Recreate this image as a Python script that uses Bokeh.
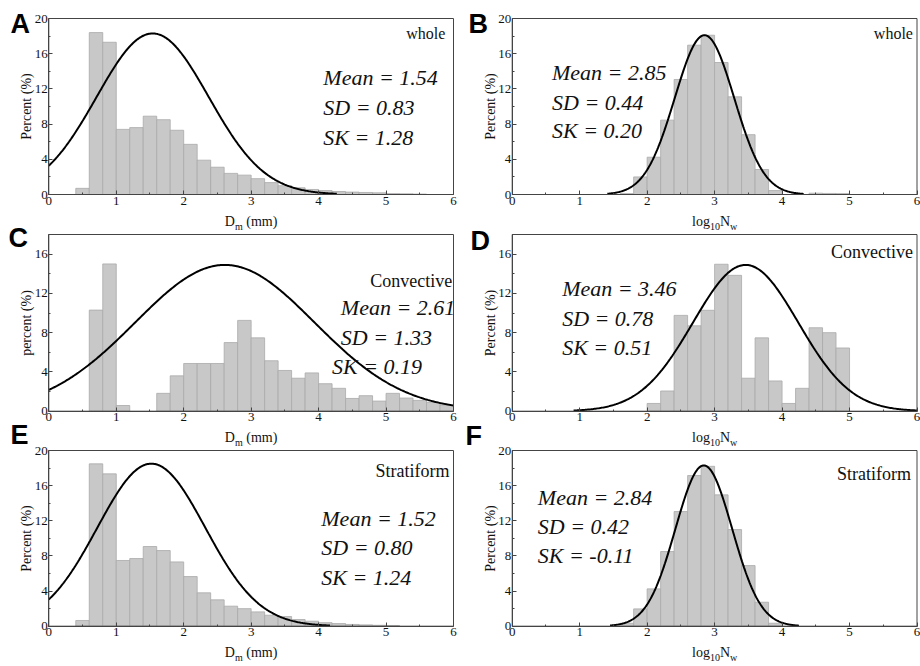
import numpy as np
from bokeh.plotting import figure
from bokeh.layouts import row
from bokeh.models import (FixedTicker, Label, Range1d, ColumnDataSource, LinearAxis)
from bokeh.embed import file_html
from bokeh.resources import INLINE

# ---------------- data ----------------
BIN_WIDTH = 0.2
X_TICKS = [0, 1, 2, 3, 4, 5, 6]
X_MINOR = [0.5, 1.5, 2.5, 3.5, 4.5, 5.5]

panel_letters = ["A", "B", "C", "D", "E", "F"]
panel_names = ["whole", "whole", "Convective", "Convective", "Stratiform", "Stratiform"]
y_titles = ["Percent (%)", "Percent (%)", "percent (%)", "Percent (%)", "Percent (%)", "Percent (%)"]
x_kinds = ["Dm", "Nw", "Dm", "Nw", "Dm", "Nw"]

# histogram: first bin left edge and percent per 0.2-wide bin
a_start = 0.4
a_pct = [0.7, 18.4, 17.3, 7.4, 7.6, 8.9, 8.5, 7.3, 5.7, 3.9, 3.1, 2.4, 2.2, 1.8,
         1.35, 1.0, 0.76, 0.57, 0.45, 0.34, 0.27, 0.23, 0.19, 0.1, 0.08, 0.05]
b_start = 1.6
b_pct = [0.1, 2.0, 4.24, 8.45, 13.07, 16.97, 18.1, 15.0, 11.1, 6.8, 2.84, 0.45,
         0, 0, 0.15, 0.12, 0.1]
c_start = 0.6
c_pct = [10.3, 15.0, 0.58, 0, 0, 1.82, 3.6, 4.86, 4.86, 4.86, 6.99, 9.25, 7.47,
         5.14, 4.15, 3.36, 3.9, 2.8, 2.33, 1.3, 1.58, 1.03, 1.82, 1.34, 1.1, 0.9, 0.62]
d_start = 2.0
d_pct = [0.79, 2.06, 9.76, 8.7, 10.28, 14.97, 13.84, 3.36, 7.47, 3.08, 0.79,
         2.33, 8.5, 8.0, 6.44]
e_start = 0.4
e_pct = [0.65, 18.48, 17.34, 7.48, 7.7, 9.07, 8.61, 7.32, 5.65, 3.8, 3.0, 2.28,
         2.0, 1.63, 1.25, 1.1, 0.76, 0.57, 0.4, 0.3, 0.2, 0.15, 0.1, 0.08]
f_start = 1.6
f_pct = [0.34, 1.97, 4.25, 8.5, 13.05, 17.15, 18.2, 14.95, 11.0, 6.9, 2.73, 0.34]

hist_starts = [a_start, b_start, c_start, d_start, e_start, f_start]
hist_pcts = [a_pct, b_pct, c_pct, d_pct, e_pct, f_pct]

# fitted normal curves: printed mean / SD, peak height and drawn x-extent
curve_mean = [1.54, 2.85, 2.61, 3.46, 1.52, 2.84]
curve_sd = [0.83, 0.44, 1.33, 0.78, 0.80, 0.42]
curve_peak = [18.3, 18.1, 14.9, 14.9, 18.5, 18.3]
curve_x0 = [0.0, 1.41, 0.0, 0.91, 0.0, 1.45]
curve_x1 = [4.27, 4.32, 6.0, 6.0, 4.17, 4.25]

mean_txt = ["1.54", "2.85", "2.61", "3.46", "1.52", "2.84"]
sd_txt = ["0.83", "0.44", "1.33", "0.78", "0.80", "0.42"]
sk_txt = ["1.28", "0.20", "0.19", "0.51", "1.24", "-0.11"]

y_max = [20, 20, 18, 18, 20, 20]

# ---------------- layout constants ----------------
SERIF = "Liberation Serif"
SANS = "Liberation Sans"
AX = "#444444"
TXT = "#111111"

# (name_x, name_y, stats_x [mean, sd, sk], stats_y [mean, sd, sk])
text_pos = [
    (5.88, 18.3, [4.07, 4.07, 4.07], [13.33, 9.92, 6.51]),
    (5.94, 18.3, [0.59, 0.59, 0.59], [13.9, 10.49, 7.27]),
    (5.98, 13.31, [4.33, 4.33, 4.2], [10.59, 7.5, 4.58]),
    (5.94, 16.19, [0.74, 0.74, 0.74], [12.46, 9.44, 6.52]),
    (5.94, 17.72, [4.04, 4.04, 4.04], [12.23, 8.92, 5.51]),
    (5.91, 17.38, [0.38, 0.38, 0.38], [14.68, 11.35, 8.05]),
]
name_size = ["16px", "16px", "18px", "18px", "18px", "18px"]

FIG_W = 460
FIG_H = 666
ROW_IN_TOP = [18, 234, 450]         # inner box top (px)
ROW_IN_BOT = [194, 410.7, 625.7]    # inner box bottom (px)
COL_IN_L = [48.3, 51.7]             # inner box left (px, within column)
COL_IN_R = [453.0, 456.5]           # inner box right (px, within column)
XLABEL_PX = [27, 26.3, 26.3]        # x-label centre below the inner box (px)
# panel letter: left x (px within column), visual centre y (px)
LETTER_PX = [(10, 23), (8, 23), (8, 237.5), (10, 240), (10, 434.5), (5, 435.5)]


def make_column(c):
    ppx = (COL_IN_R[c] - COL_IN_L[c]) / 6.0
    xr = Range1d(-COL_IN_L[c] / ppx, 6 + (FIG_W - COL_IN_R[c]) / ppx)
    p = figure(width=FIG_W, height=FIG_H, x_range=xr, y_range=Range1d(0, 1),
               x_axis_type=None, y_axis_type=None,
               output_backend="svg", toolbar_location=None, tools="",
               min_border=0, min_border_left=0, min_border_right=0,
               min_border_top=0, min_border_bottom=0)
    p.background_fill_color = "white"
    p.border_fill_color = "white"
    p.outline_line_color = None

    for r in range(3):
        i = 2 * r + c
        ymx = y_max[i]
        rn = "p" + panel_letters[i]
        ppy = (ROW_IN_BOT[r] - ROW_IN_TOP[r]) / ymx
        p.extra_y_ranges[rn] = Range1d(-(FIG_H - ROW_IN_BOT[r]) / ppy,
                                       ymx + ROW_IN_TOP[r] / ppy)

        xax = LinearAxis(y_range_name=rn, fixed_location=0, bounds=(0, 6),
                         ticker=FixedTicker(ticks=X_TICKS, minor_ticks=X_MINOR))
        yax = LinearAxis(y_range_name=rn, fixed_location=0, bounds=(0, ymx),
                         ticker=FixedTicker(ticks=list(range(0, ymx + 1, 4)),
                                            minor_ticks=list(range(2, ymx + 1, 4))))
        for ax in (xax, yax):
            ax.major_label_text_font = SERIF
            ax.major_label_text_font_size = "13px"
            ax.major_label_text_color = TXT
            ax.major_tick_in = 4
            ax.major_tick_out = 0
            ax.minor_tick_in = 2
            ax.minor_tick_out = 0
            ax.axis_line_color = AX
            ax.major_tick_line_color = AX
            ax.minor_tick_line_color = AX
            ax.major_label_standoff = 2
        yax.major_label_standoff = 1
        yax.axis_label = y_titles[i]
        yax.axis_label_text_font = SERIF
        yax.axis_label_text_font_size = "14px"
        yax.axis_label_text_font_style = "normal"
        yax.axis_label_text_color = TXT
        yax.axis_label_standoff = -2
        p.add_layout(xax, "below")
        p.add_layout(yax, "left")

        # histogram
        pct = np.array(hist_pcts[i], dtype=float)
        lefts = hist_starts[i] + BIN_WIDTH * np.arange(len(pct))
        keep = pct > 0
        src = ColumnDataSource(dict(left=lefts[keep], right=lefts[keep] + BIN_WIDTH,
                                    top=pct[keep]))
        p.quad(left="left", right="right", top="top", bottom=0, source=src,
               fill_color="#c8c8c8", line_color="#aaaaaa", line_width=0.8,
               y_range_name=rn)

        # fitted normal curve
        xs = np.linspace(curve_x0[i], curve_x1[i], 300)
        ys = curve_peak[i] * np.exp(-((xs - curve_mean[i]) ** 2) / (2 * curve_sd[i] ** 2))
        p.line(xs, ys, line_color="black", line_width=2, y_range_name=rn)

        # frame box around the plotting area
        p.quad(left=[0], right=[6], bottom=[0], top=[ymx], fill_color=None,
               line_color=AX, line_width=1, y_range_name=rn)

        # texts
        nx, ny, sxs, sys_ = text_pos[i]
        p.add_layout(Label(x=nx, y=ny, y_range_name=rn, text=panel_names[i],
                           text_font=SERIF, text_font_size=name_size[i],
                           text_align="right", text_baseline="middle", text_color=TXT))
        stats = ["Mean = " + mean_txt[i], "SD = " + sd_txt[i], "SK = " + sk_txt[i]]
        for s, sx, sy in zip(stats, sxs, sys_):
            p.add_layout(Label(x=sx, y=sy, y_range_name=rn, text=s, text_font=SERIF,
                               text_font_size="22px", text_font_style="italic",
                               text_align="left", text_baseline="middle",
                               text_color=TXT))

        # composed x-axis label with subscripts
        yc = -XLABEL_PX[r] / ppy
        ys_sub = yc - 4.5 / ppy
        if x_kinds[i] == "Dm":
            parts = [("D", "14px", yc, -26.3), ("m", "10px", ys_sub, -16.2),
                     ("(mm)", "14px", yc, -4.9)]
        else:
            parts = [("log", "14px", yc, -22.6), ("10", "10px", ys_sub, -4.7),
                     ("N", "14px", yc, 5.3), ("w", "10px", ys_sub, 15.4)]
        for t, fs, yy, off in parts:
            p.add_layout(Label(x=3, y=yy, x_offset=off, y_range_name=rn, text=t,
                               text_font=SERIF, text_font_size=fs, text_align="left",
                               text_baseline="middle", text_color=TXT))

        # panel letter
        lxp, lyp = LETTER_PX[i]
        p.add_layout(Label(x=(lxp - COL_IN_L[c]) / ppx, y=(ROW_IN_BOT[r] - lyp) / ppy,
                           y_range_name=rn, text=panel_letters[i], text_font=SANS,
                           text_font_size="27px", text_font_style="bold",
                           text_align="left", text_baseline="middle",
                           text_color="black"))
    return p


layout = row(make_column(0), make_column(1))

open("out.html", "w").write(file_html(layout, INLINE))
